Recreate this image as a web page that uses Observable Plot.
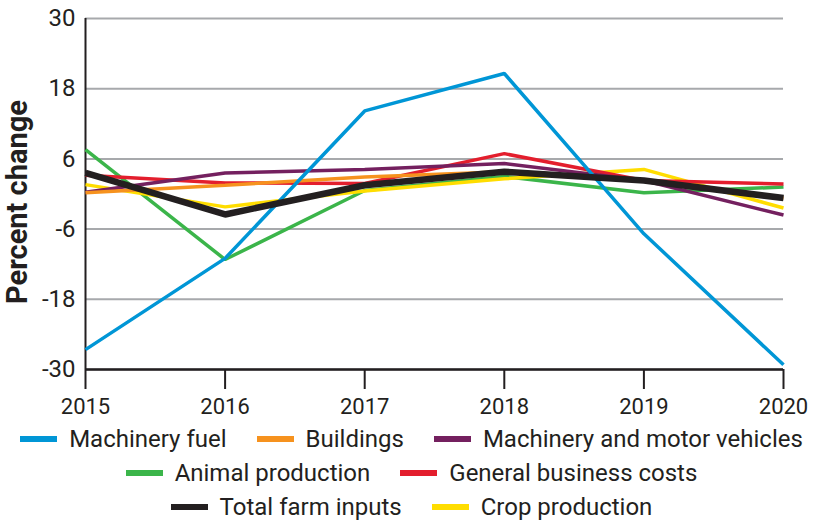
<!DOCTYPE html>
<html>
<head>
<meta charset="utf-8">
<script src="https://cdn.jsdelivr.net/npm/d3@7"></script>
<script src="https://cdn.jsdelivr.net/npm/@observablehq/plot@0.6"></script>
<style>
  body { margin: 0; background: #fff; font-family: Roboto, "Open Sans", sans-serif; }
  #chart { width: 823px; }
  .legend { width: 823px; font-family: Roboto, sans-serif; font-size: 24px; color: #231f20; }
  .row { display: flex; justify-content: center; align-items: center; height: 34px; white-space: nowrap; }
  .item { display: flex; align-items: center; margin: 0 15px; flex-shrink: 0; white-space: nowrap; }
  .sw { width: 37px; height: 6px; margin-right: 12px; flex-shrink: 0; }
</style>
</head>
<body>
<div id="chart"></div>
<script>
const years = [2015, 2016, 2017, 2018, 2019, 2020];
const yTicks = [-30, -18, -6, 6, 18, 30];

const machineryFuel    = [-26.6, -11.0, 14.2, 20.6, -6.8, -29.2];
const buildings        = [0.2, 1.5, 2.9, 3.8, 2.3, -0.7];
const machineryMotor   = [0.3, 3.6, 4.2, 5.2, 2.3, -3.6];
const animalProduction = [7.6, -11.2, 0.6, 3.0, 0.2, 1.2];
const generalBusiness  = [3.2, 1.9, 1.8, 6.9, 2.3, 1.7];
const totalFarmInputs  = [3.6, -3.5, 1.5, 3.8, 2.3, -0.7];
const cropProduction   = [1.6, -2.2, 0.5, 2.6, 4.2, -2.4];

const seriesNames = ["Machinery fuel", "Buildings", "Machinery and motor vehicles",
  "Animal production", "General business costs", "Total farm inputs", "Crop production"];
const seriesValues = [machineryFuel, buildings, machineryMotor, animalProduction,
  generalBusiness, totalFarmInputs, cropProduction];
const seriesColors = ["#0096d6", "#f6921e", "#74205f", "#3bb54a", "#e31e2d", "#231f20", "#ffdd00"];
const legendRows = [[0, 1, 2], [3, 4], [5, 6]];
// drawing order (bottom to top)
const drawOrder = [3, 6, 4, 2, 1, 0, 5];

const rows = seriesNames.flatMap((name, i) =>
  years.map((yr, j) => ({series: name, year: yr, value: seriesValues[i][j]})));

const lineMarks = drawOrder.map(i =>
  Plot.line(rows.filter(d => d.series === seriesNames[i]), {
    x: "year", y: "value",
    stroke: seriesColors[i],
    strokeWidth: i === 5 ? 6.5 : 3.5,
    strokeLinejoin: "miter",
    strokeLinecap: "butt"
  }));

const chart = Plot.plot({
  width: 823,
  height: 422,
  marginLeft: 85,
  marginRight: 40,
  marginTop: 18,
  marginBottom: 53,
  style: {fontFamily: "Roboto, sans-serif", color: "#231f20", background: "#fff"},
  x: {domain: [2015, 2020]},
  y: {domain: [-30, 30]},
  marks: [
    Plot.gridY(yTicks, {stroke: "#a7a9ac", strokeWidth: 2, strokeOpacity: 1}),
    Plot.axisY(yTicks, {tickSize: 0, tickPadding: 10, fontSize: 24, tickFormat: d => String(d),
      label: "Percent change", labelAnchor: "center", labelArrow: "none", labelOffset: 79}),
    Plot.axisX(years, {tickSize: 20, tickPadding: 9, fontSize: 22, tickFormat: d => String(d),
      stroke: "#231f20", strokeWidth: 2, label: null}),
    Plot.ruleX([2015], {y1: -30, y2: 30, stroke: "#231f20", strokeWidth: 2}),
    Plot.ruleY([-30], {stroke: "#231f20", strokeWidth: 2.5}),
    ...lineMarks
  ]
});
// style the y-axis label bold
chart.querySelectorAll("g[aria-label='y-axis label'] text").forEach(t => {
  t.setAttribute("font-weight", "bold");
  t.setAttribute("font-size", "29");
  t.setAttribute("dx", "-8");
});
document.getElementById("chart").appendChild(chart);

const legend = document.createElement("div");
legend.className = "legend";
legendRows.forEach(r => {
  const row = document.createElement("div");
  row.className = "row";
  r.forEach(i => {
    const item = document.createElement("div");
    item.className = "item";
    const sw = document.createElement("span");
    sw.className = "sw";
    sw.style.background = seriesColors[i];
    const lab = document.createElement("span");
    lab.textContent = seriesNames[i];
    item.appendChild(sw);
    item.appendChild(lab);
    row.appendChild(item);
  });
  legend.appendChild(row);
});
document.getElementById("chart").appendChild(legend);
</script>
</body>
</html>
